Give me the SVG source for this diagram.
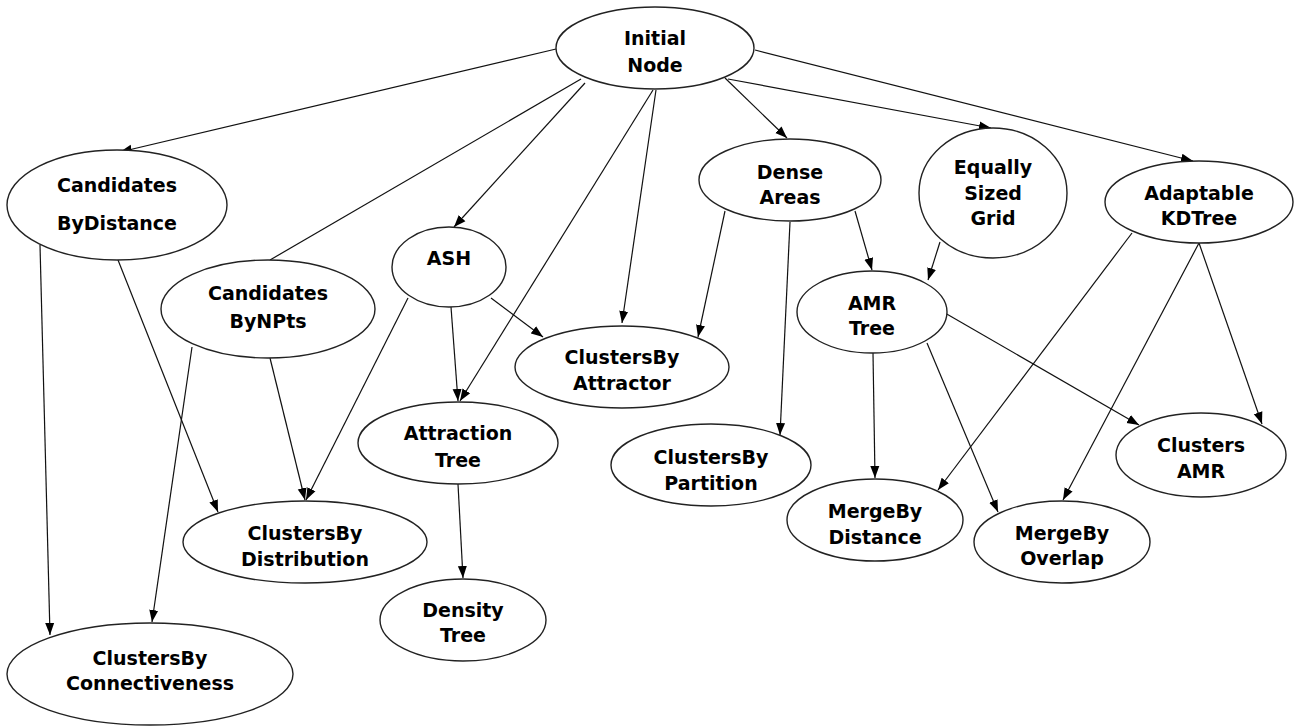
<svg xmlns="http://www.w3.org/2000/svg" width="1300" height="726" viewBox="0 0 1300 726">
<defs>
<marker id="arr" markerUnits="userSpaceOnUse" markerWidth="12" markerHeight="10" refX="12" refY="5" orient="auto">
<path d="M0,0.5 L12,5 L0,9.5 z" fill="#000"/>
</marker>
<style>
.n ellipse{fill:#fff;stroke:#222;stroke-width:1.4}
.n text{font-family:"DejaVu Sans","Liberation Sans",sans-serif;font-weight:bold;font-size:19px;fill:#000;text-anchor:middle}
#edges line{stroke:#111;stroke-width:1.2;fill:none}
#edges line.a{marker-end:url(#arr)}
</style>
</defs>
<rect width="1300" height="726" fill="#fff"/>
<g id="edges">
<line class="a" x1="556" y1="49" x2="120" y2="152"/>
<line x1="581" y1="79" x2="270" y2="260"/>
<line class="a" x1="585" y1="83" x2="454" y2="227"/>
<line class="a" x1="653" y1="90" x2="460" y2="401"/>
<line class="a" x1="656" y1="90" x2="622" y2="323"/>
<line class="a" x1="725" y1="78" x2="787" y2="138"/>
<line class="a" x1="728" y1="79" x2="991" y2="128"/>
<line class="a" x1="755" y1="50" x2="1193" y2="161"/>
<line class="a" x1="40" y1="245" x2="50" y2="635"/>
<line class="a" x1="118" y1="260" x2="218" y2="512"/>
<line class="a" x1="192" y1="347" x2="152" y2="622"/>
<line class="a" x1="270" y1="358" x2="305" y2="500"/>
<line class="a" x1="408" y1="298" x2="306" y2="500"/>
<line class="a" x1="451" y1="307" x2="458" y2="401"/>
<line class="a" x1="491" y1="298" x2="543" y2="337"/>
<line class="a" x1="725" y1="211" x2="698" y2="337"/>
<line class="a" x1="790" y1="222" x2="780" y2="435"/>
<line class="a" x1="855" y1="211" x2="872" y2="270"/>
<line class="a" x1="940" y1="242" x2="928" y2="280"/>
<line class="a" x1="1132" y1="233" x2="938" y2="490"/>
<line class="a" x1="1199" y1="243" x2="1063" y2="500"/>
<line class="a" x1="1199" y1="243" x2="1262" y2="424"/>
<line class="a" x1="873" y1="353" x2="875" y2="478"/>
<line class="a" x1="927" y1="343" x2="998" y2="512"/>
<line class="a" x1="945" y1="313" x2="1139" y2="425"/>
<line class="a" x1="458" y1="484" x2="463" y2="578"/>
</g>
<g id="initial" class="n"><ellipse cx="655" cy="48" rx="99" ry="41"/><text x="655" y="45">Initial</text><text x="655" y="72">Node</text></g>
<g id="candDist" class="n"><ellipse cx="117" cy="205" rx="110" ry="55"/><text x="117" y="192">Candidates</text><text x="117" y="230">ByDistance</text></g>
<g id="candNPts" class="n"><ellipse cx="268" cy="309" rx="107" ry="49"/><text x="268" y="300">Candidates</text><text x="268" y="328">ByNPts</text></g>
<g id="ash" class="n"><ellipse cx="449" cy="267" rx="57" ry="40"/><text x="449" y="265">ASH</text></g>
<g id="attractor" class="n"><ellipse cx="622" cy="367" rx="107" ry="41"/><text x="622" y="364">ClustersBy</text><text x="622" y="390">Attractor</text></g>
<g id="dense" class="n"><ellipse cx="790" cy="180" rx="91" ry="41"/><text x="790" y="179">Dense</text><text x="790" y="204">Areas</text></g>
<g id="grid" class="n"><ellipse cx="993" cy="193" rx="74" ry="65"/><text x="993" y="174">Equally</text><text x="993" y="200">Sized</text><text x="993" y="225">Grid</text></g>
<g id="kdtree" class="n"><ellipse cx="1199" cy="202" rx="94" ry="41"/><text x="1199" y="200">Adaptable</text><text x="1199" y="225">KDTree</text></g>
<g id="amr" class="n"><ellipse cx="872" cy="312" rx="75" ry="41"/><text x="872" y="310">AMR</text><text x="872" y="335">Tree</text></g>
<g id="attraction" class="n"><ellipse cx="458" cy="443" rx="100" ry="41"/><text x="458" y="440">Attraction</text><text x="458" y="467">Tree</text></g>
<g id="partition" class="n"><ellipse cx="711" cy="465" rx="100" ry="41"/><text x="711" y="464">ClustersBy</text><text x="711" y="490">Partition</text></g>
<g id="clustersAmr" class="n"><ellipse cx="1201" cy="455" rx="85" ry="42"/><text x="1201" y="452">Clusters</text><text x="1201" y="478">AMR</text></g>
<g id="mergeDist" class="n"><ellipse cx="875" cy="520" rx="88" ry="41"/><text x="875" y="518">MergeBy</text><text x="875" y="544">Distance</text></g>
<g id="mergeOverlap" class="n"><ellipse cx="1062" cy="542" rx="88" ry="41"/><text x="1062" y="540">MergeBy</text><text x="1062" y="565">Overlap</text></g>
<g id="distribution" class="n"><ellipse cx="305" cy="542" rx="122" ry="41"/><text x="305" y="540">ClustersBy</text><text x="305" y="566">Distribution</text></g>
<g id="density" class="n"><ellipse cx="463" cy="620" rx="83" ry="41"/><text x="463" y="617">Density</text><text x="463" y="642">Tree</text></g>
<g id="connect" class="n"><ellipse cx="150" cy="674" rx="143" ry="51"/><text x="150" y="665">ClustersBy</text><text x="150" y="690">Connectiveness</text></g>
</svg>
